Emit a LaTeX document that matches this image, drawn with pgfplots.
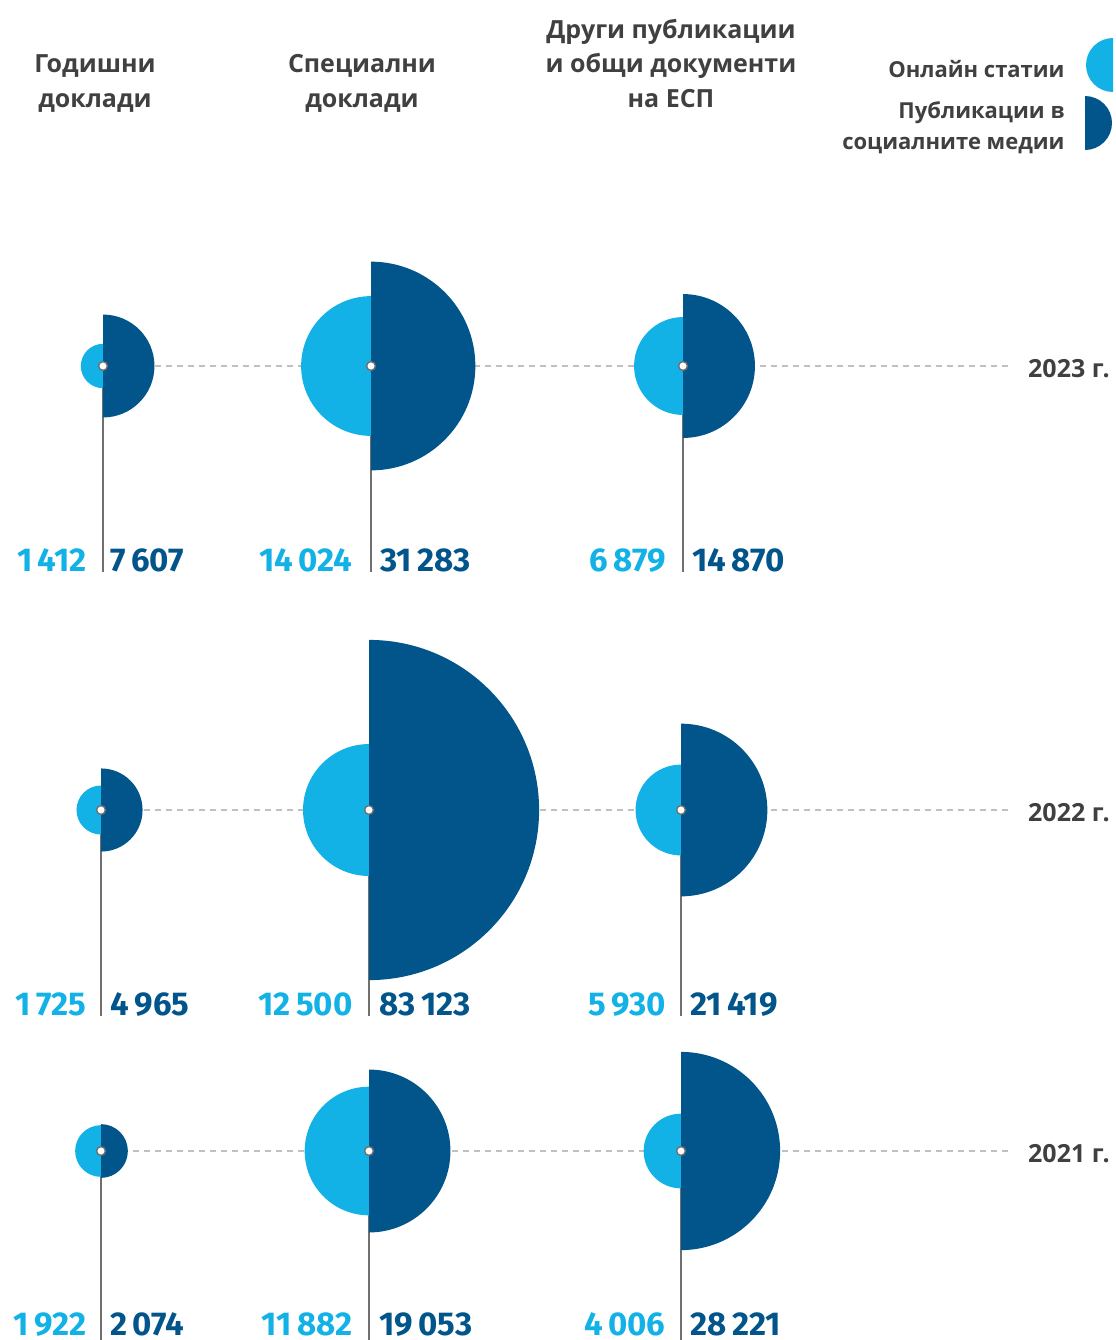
\documentclass[border=0pt]{standalone}
\usepackage{fontspec}
\setmainfont{Open Sans}
\newfontfamily\numfont{Fira Sans}[UprightFont={* Bold}]
\usepackage{pgfplots}
\usepackage{pgfplotstable}
\pgfplotsset{compat=1.18}
\definecolor{light}{HTML}{12B2E6}
\definecolor{dark}{HTML}{02558A}
\definecolor{txt}{HTML}{404040}
\definecolor{stem}{HTML}{707070}
\definecolor{dashc}{HTML}{C0C0C0}

\pgfdeclareplotmark{halfL}{\pgfpathmoveto{\pgfqpoint{0pt}{\pgfplotmarksize}}\pgfpatharc{90}{270}{\pgfplotmarksize}\pgfpathclose\pgfusepathqfill}
\pgfdeclareplotmark{halfR}{\pgfpathmoveto{\pgfqpoint{0pt}{\pgfplotmarksize}}\pgfpatharc{90}{-90}{\pgfplotmarksize}\pgfpathclose\pgfusepathqfill}

% x y value (bubble centres)
\pgfplotstableread{
x y v
103 366 1412
371 366 14024
683 366 6879
101 810 1725
369 810 12500
681 810 5930
101 1151 1922
369 1151 11882
681 1151 4006
}\online
\pgfplotstableread{
x y v
103 366 7607
371 366 31283
683 366 14870
101 810 4965
369 810 83123
681 810 21419
101 1151 2074
369 1151 19053
681 1151 28221
}\social
% label anchors
\pgfplotstableread{
x y v
87 571 1412
353 571 14024
666 571 6879
87 1015 1725
353 1015 12500
666 1015 5930
87 1335 1922
353 1335 11882
666 1335 4006
}\onlinelab
\pgfplotstableread{
x y v
110 571 7607
380 571 31283
692 571 14870
110 1015 4965
379 1015 83123
690 1015 21419
110 1335 2074
379 1335 19053
690 1335 28221
}\sociallab

\begin{document}
\begin{tikzpicture}
\begin{axis}[name=ax, at={(0,0)}, anchor=south west,
  width=557.5pt, height=670pt, scale only axis,
  xmin=0, xmax=1115, ymin=0, ymax=1340, y dir=reverse,
  axis lines=none, clip=false,
  /pgf/number format/.cd, 1000 sep={\,}, assume math mode=true, fixed, precision=0]
% dashed guide lines
\addplot[dashc, line width=0.6pt, dash pattern=on 3pt off 2.5pt, unbounded coords=jump] coordinates {
 (100,366) (1012,366) (nan,nan) (100,810) (1012,810) (nan,nan) (100,1151) (1012,1151)};
% bubbles
\addplot[scatter, only marks, mark=halfL, scatter/use mapped color={draw=none, fill=light},
  visualization depends on={0.295*sqrt(\thisrow{v})\as\rad},
  scatter/@pre marker code/.append style={/tikz/mark size=\rad}] table[x=x,y=y] {\online};
\addplot[scatter, only marks, mark=halfR, scatter/use mapped color={draw=none, fill=dark},
  visualization depends on={0.295*sqrt(\thisrow{v})\as\rad},
  scatter/@pre marker code/.append style={/tikz/mark size=\rad}] table[x=x,y=y] {\social};
% stems
\addplot[stem, line width=1.2pt, unbounded coords=jump] coordinates {
 (103,366) (103,572) (nan,nan) (371,366) (371,572) (nan,nan) (683,366) (683,572) (nan,nan)
 (101,810) (101,1016) (nan,nan) (369,810) (369,1016) (nan,nan) (681,810) (681,1016) (nan,nan)
 (101,1151) (101,1345) (nan,nan) (369,1151) (369,1345) (nan,nan) (681,1151) (681,1345)};
% centre dots
\addplot[only marks, mark=*, mark size=2.2pt, mark options={fill=white, draw=stem, line width=0.7pt}] table[x=x,y=y] {\online};
% value labels
\addplot[draw=none, point meta=explicit, nodes near coords,
  nodes near coords style={anchor=base east, inner sep=0pt, text=light,
  font=\numfont\fontsize{16.5}{19}\selectfont}] table[x=x,y=y,meta=v] {\onlinelab};
\addplot[draw=none, point meta=explicit, nodes near coords,
  nodes near coords style={anchor=base west, inner sep=0pt, text=dark,
  font=\numfont\fontsize{16.5}{19}\selectfont}] table[x=x,y=y,meta=v] {\sociallab};
% legend markers
\addplot[only marks, mark=halfL, mark size=13.5pt, mark options={draw=none, fill=light}] coordinates {(1113,65)};
\addplot[only marks, mark=halfR, mark size=13.5pt, mark options={draw=none, fill=dark}] coordinates {(1085,123)};
% headers
\begin{scope}[every node/.style={text=txt, inner sep=0pt, font=\bfseries\fontsize{12.5}{15}\selectfont}]
\node[anchor=base] at (axis cs:95,72) {Годишни};
\node[anchor=base] at (axis cs:95,107) {доклади};
\node[anchor=base] at (axis cs:362,72) {Специални};
\node[anchor=base] at (axis cs:362,107) {доклади};
\node[anchor=base] at (axis cs:671,38) {Други публикации};
\node[anchor=base] at (axis cs:671,72) {и общи документи};
\node[anchor=base] at (axis cs:671,107) {на ЕСП};
\end{scope}
\begin{scope}[every node/.style={text=txt, inner sep=0pt, font=\bfseries\fontsize{11}{13}\selectfont}]
\node[anchor=base east] at (axis cs:1065,77) {Онлайн статии};
\node[anchor=base east] at (axis cs:1065,118) {Публикации в};
\node[anchor=base east] at (axis cs:1065,149) {социалните медии};
\end{scope}
\begin{scope}[every node/.style={text=txt, inner sep=0pt, font=\bfseries\fontsize{12.5}{15}\selectfont}]
\node[anchor=base east] at (axis cs:1110,377) {2023 г.};
\node[anchor=base east] at (axis cs:1110,821) {2022 г.};
\node[anchor=base east] at (axis cs:1110,1162) {2021 г.};
\end{scope}
\end{axis}
\pgfresetboundingbox
\path (ax.south west) rectangle (ax.north east);
\end{tikzpicture}
\end{document}
